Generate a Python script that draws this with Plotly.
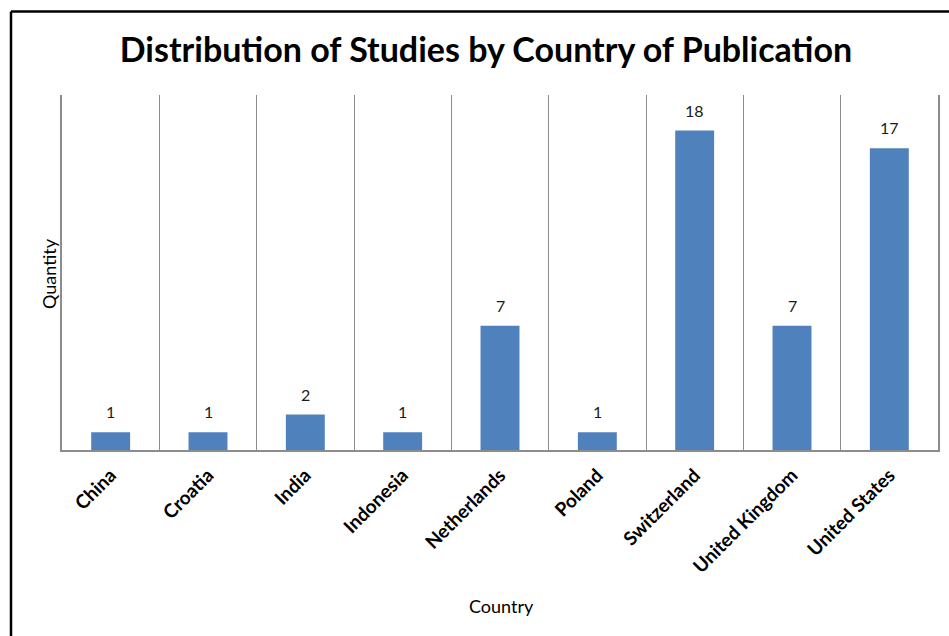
import plotly.graph_objects as go

countries = ["China", "Croatia", "India", "Indonesia", "Netherlands", "Poland",
             "Switzerland", "United Kingdom", "United States"]
quantities = [1, 1, 2, 1, 7, 1, 18, 7, 17]

W, H = 949, 636
L, R, T, B = 62, 11, 95, 186
pw, ph = W - L - R, H - T - B

def px_x(px):
    return (px - L) / pw

def px_y(py):
    return (H - B - py) / ph

fig = go.Figure(go.Bar(
    x=countries, y=quantities, width=0.4,
    marker=dict(color="#4F81BD", line=dict(width=0)),
))

for c, v in zip(countries, quantities):
    fig.add_annotation(x=c, y=v, text=str(v), showarrow=False,
                       yanchor="bottom", yshift=9,
                       font=dict(family="Lato", size=16, color="#1a1a1a"))

fig.add_annotation(x=px_x(501), y=px_y(606), xref="paper", yref="paper",
                   text="Country", showarrow=False, xanchor="center", yanchor="middle",
                   font=dict(family="Lato", size=18, color="black"))
fig.add_annotation(x=px_x(49), y=px_y(274), xref="paper", yref="paper",
                   text="Quantity", showarrow=False, xanchor="center", yanchor="middle",
                   textangle=-90,
                   font=dict(family="Lato", size=18, color="black"))

fig.update_layout(
    width=W, height=H,
    margin=dict(l=L, r=R, t=T, b=B),
    paper_bgcolor="white", plot_bgcolor="white",
    showlegend=False,
    title=dict(text="<b>Distribution of Studies by Country of Publication</b>",
               x=486 / W, xanchor="center", y=1 - 50 / H, yanchor="middle",
               font=dict(family="Lato", size=34, color="black")),
    xaxis=dict(
        type="category", tickson="boundaries", showgrid=True, automargin=False,
        gridcolor="#8c8c8c", gridwidth=1.3, ticks="", showline=True,
        linecolor="#8c8c8c", linewidth=1.5, tickangle=-45,
        ticklabelstandoff=5,
        tickfont=dict(family="Lato", size=19, color="black", weight="bold"),
    ),
    yaxis=dict(
        range=[0, 20], showticklabels=False, showgrid=False, zeroline=False,
        automargin=False,
        showline=True, linecolor="#8c8c8c", linewidth=1.5, mirror=True, ticks="",
    ),
    shapes=[
        dict(type="line", xref="paper", yref="paper",
             x0=px_x(11), x1=px_x(960), y0=px_y(11.5), y1=px_y(11.5),
             line=dict(color="black", width=2.5)),
        dict(type="line", xref="paper", yref="paper",
             x0=px_x(11), x1=px_x(11), y0=px_y(11.5), y1=px_y(650),
             line=dict(color="black", width=2.5)),
    ],
)

fig.write_html("out.html")
